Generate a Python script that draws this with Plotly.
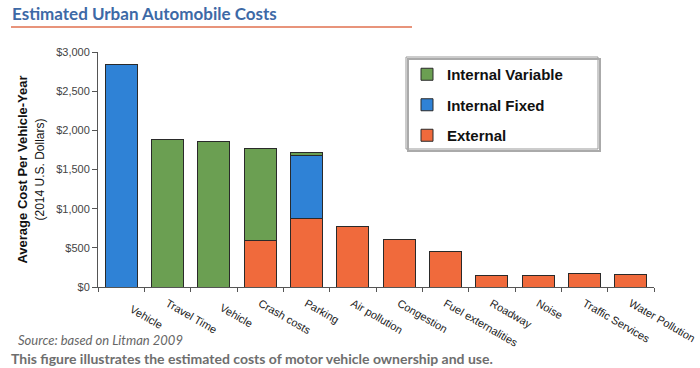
import plotly.graph_objects as go

NB = "\u00a0"
categories = [NB * 4 + "Vehicle", "Travel Time", NB * 3 + "Vehicle", "Crash costs", "Parking",
              "Air pollution", "Congestion", "Fuel externalities", "Roadway", "Noise",
              "Traffic Services", "Water Pollution"]
external = [0, 0, 0, 590, 880, 772, 603, 450, 153, 153, 178, 160]
internal_fixed = [2835, 0, 0, 0, 793, 0, 0, 0, 0, 0, 0, 0]
internal_variable = [0, 1885, 1860, 1176, 38, 0, 0, 0, 0, 0, 0, 0]
y_ticks = [0, 500, 1000, 1500, 2000, 2500, 3000]

GREEN = "#6b9f52"
BLUE = "#2f82d6"
ORANGE = "#f06a3c"
OUTLINE = dict(color="#2a2a2a", width=1)

fig = go.Figure()
fig.add_bar(x=categories, y=external, name="External", marker=dict(color=ORANGE, line=OUTLINE),
            legendgroup="c", legendrank=3)
fig.add_bar(x=categories, y=internal_fixed, name="Internal Fixed", marker=dict(color=BLUE, line=OUTLINE),
            legendgroup="b", legendrank=2)
fig.add_bar(x=categories, y=internal_variable, name="Internal Variable",
            marker=dict(color=GREEN, line=OUTLINE), legendgroup="a", legendrank=1)

L, R, T, B = 98, 46, 52, 81
W, H = 700, 368
pw, ph = W - L - R, H - T - B


def px_x(x):
    return (x - L) / pw


def px_y(y):
    return (H - B - y) / ph


fig.update_layout(
    width=W, height=H,
    margin=dict(l=L, r=R, t=T, b=B, pad=0, autoexpand=False),
    paper_bgcolor="white", plot_bgcolor="white",
    barmode="stack", bargap=0.31,
    showlegend=True,
    legend=dict(x=px_x(407), y=px_y(58), xanchor="left", yanchor="top",
                traceorder="grouped", tracegroupgap=8,
                bgcolor="rgba(0,0,0,0)", borderwidth=0,
                font=dict(family="Arial, Liberation Sans", size=15, color="#111111", weight="bold"),
                itemwidth=30),
    font=dict(family="Arial, Liberation Sans", color="#333333"),
    xaxis=dict(type="category", showline=True, linecolor="#555555", linewidth=1,
               ticks="outside", ticklen=4, tickcolor="#555555", tickson="boundaries",
               tickangle=30, tickfont=dict(size=11, color="#222222"), showgrid=False,
               ticklabelstandoff=5,
               range=[-0.5, 11.5], automargin=False),
    yaxis=dict(range=[0, 3000], tickvals=y_ticks, tickformat="$,", showline=True,
               linecolor="#555555", linewidth=1, ticks="outside", ticklen=5,
               tickcolor="#555555", showgrid=False, zeroline=False, automargin=False,
               tickfont=dict(size=11, color="#444444"),
               title=dict(text="<b>Average Cost Per Vehicle-Year</b><br>"
                               "<span style='font-size:12px'>(2014 U.S. Dollars)</span>",
                          font=dict(size=13, color="#111111"), standoff=8)),
    shapes=[
        dict(type="rect", xref="paper", yref="paper", x0=px_x(408), x1=px_x(600),
             y0=px_y(151), y1=px_y(59), line=dict(color="#aaaaaa", width=2)),
        dict(type="rect", xref="paper", yref="paper", x0=px_x(406), x1=px_x(598),
             y0=px_y(149), y1=px_y(57), line=dict(color="#999999", width=1),
             fillcolor="white", layer="below"),
        dict(type="line", xref="paper", yref="paper", x0=px_x(11), x1=px_x(412),
             y0=px_y(27), y1=px_y(27), line=dict(color="#e0714f", width=1.5)),
    ],
    annotations=[
        dict(text="Estimated Urban Automobile Costs", xref="paper", yref="paper",
             x=px_x(10), y=px_y(13), xanchor="left", yanchor="middle", showarrow=False,
             font=dict(family="Lato", size=17, color="#3d69a6", weight="bold")),
        dict(text="<i>Source: based on Litman 2009</i>", xref="paper", yref="paper",
             x=px_x(16), y=px_y(340), xanchor="left", yanchor="middle", showarrow=False,
             font=dict(family="Lato", size=13, color="#666666")),
        dict(text="<b>This figure illustrates the estimated costs of motor vehicle ownership and use.</b>",
             xref="paper", yref="paper",
             x=px_x(9), y=px_y(358), xanchor="left", yanchor="middle", showarrow=False,
             font=dict(family="Lato", size=14, color="#6e6e6e")),
    ],
)

fig.write_html("out.html", config={"displayModeBar": False},
               post_script="document.body.style.margin='0';")
